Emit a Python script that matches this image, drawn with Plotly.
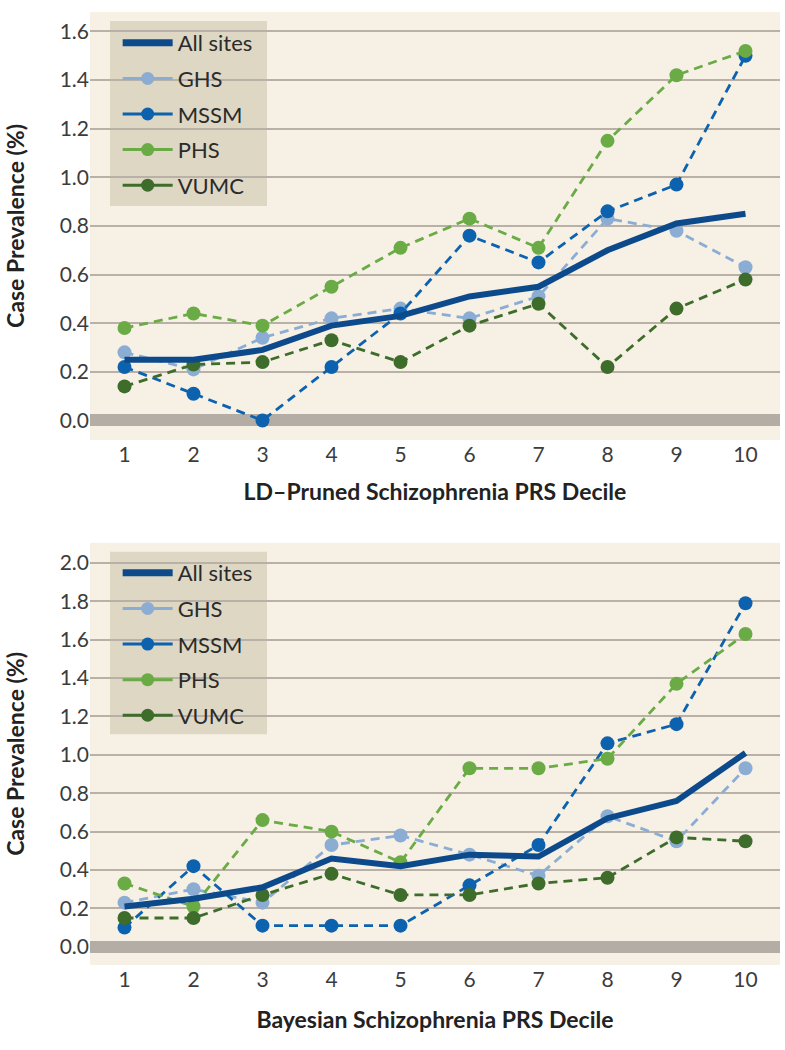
import plotly.graph_objects as go

deciles = [1, 2, 3, 4, 5, 6, 7, 8, 9, 10]
series_names = ["All sites", "GHS", "MSSM", "PHS", "VUMC"]

# Top panel: LD-pruned PRS
ld_all = [0.25, 0.25, 0.29, 0.39, 0.43, 0.51, 0.55, 0.70, 0.81, 0.85]
ld_ghs = [0.28, 0.21, 0.34, 0.42, 0.46, 0.42, 0.51, 0.83, 0.78, 0.63]
ld_mssm = [0.22, 0.11, 0.00, 0.22, 0.44, 0.76, 0.65, 0.86, 0.97, 1.50]
ld_phs = [0.38, 0.44, 0.39, 0.55, 0.71, 0.83, 0.71, 1.15, 1.42, 1.52]
ld_vumc = [0.14, 0.23, 0.24, 0.33, 0.24, 0.39, 0.48, 0.22, 0.46, 0.58]

# Bottom panel: Bayesian PRS
by_all = [0.21, 0.25, 0.31, 0.46, 0.42, 0.48, 0.47, 0.67, 0.76, 1.01]
by_ghs = [0.23, 0.30, 0.23, 0.53, 0.58, 0.48, 0.37, 0.68, 0.55, 0.93]
by_mssm = [0.10, 0.42, 0.11, 0.11, 0.11, 0.32, 0.53, 1.06, 1.16, 1.79]
by_phs = [0.33, 0.21, 0.66, 0.60, 0.44, 0.93, 0.93, 0.98, 1.37, 1.63]
by_vumc = [0.15, 0.15, 0.27, 0.38, 0.27, 0.27, 0.33, 0.36, 0.57, 0.55]

top_title = "LD–Pruned Schizophrenia PRS Decile"
bottom_title = "Bayesian Schizophrenia PRS Decile"
y_title = "Case Prevalence (%)"

colors = {
    "All sites": "#0d4a8c",
    "GHS": "#8badd4",
    "MSSM": "#0c62ae",
    "PHS": "#6aab45",
    "VUMC": "#3e6c2b",
}

FONT = "Lato"
TICK_COLOR = "#3c3c3c"
TITLE_COLOR = "#222222"
PLOT_BG = "#f6f0e5"
GRID = "#b9b1a7"
ZERO = "#b4ada6"
LEGEND_BG = "#ddd7c4"

fig = go.Figure()

panels = [
    (dict(zip(series_names, [ld_all, ld_ghs, ld_mssm, ld_phs, ld_vumc])), "x", "y", "legend"),
    (dict(zip(series_names, [by_all, by_ghs, by_mssm, by_phs, by_vumc])), "x2", "y2", "legend2"),
]

for data, xa, ya, leg in panels:
    for name in series_names[1:]:
        fig.add_trace(go.Scatter(
            x=deciles, y=data[name], mode="lines+markers", name=name,
            line=dict(color=colors[name], width=2.8, dash="9px,6px"),
            marker=dict(color=colors[name], size=14),
            xaxis=xa, yaxis=ya, showlegend=False, hoverinfo="skip",
        ))
    fig.add_trace(go.Scatter(
        x=deciles, y=data["All sites"], mode="lines", name="All sites",
        line=dict(color=colors["All sites"], width=6),
        xaxis=xa, yaxis=ya, showlegend=False,
    ))
    for i, name in enumerate(series_names):
        if name == "All sites":
            fig.add_trace(go.Scatter(
                x=[None], y=[None], mode="lines", name=name,
                line=dict(color=colors[name], width=7),
                xaxis=xa, yaxis=ya, legend=leg, legendgroup=leg + name,
                legendrank=i,
            ))
        else:
            fig.add_trace(go.Scatter(
                x=[None], y=[None], mode="lines+markers", name=name,
                line=dict(color=colors[name], width=3),
                marker=dict(color=colors[name], size=13),
                xaxis=xa, yaxis=ya, legend=leg, legendgroup=leg + name,
                legendrank=i,
            ))
    fig.add_shape(
        type="rect", xref=f"{xa} domain", yref=f"{ya} domain",
        x0=0.029, x1=0.2565, y0=0.5467, y1=0.979,
        fillcolor=LEGEND_BG, line=dict(width=0), layer="below",
    )

xaxis_common = dict(
    range=[0.5, 10.5], tickvals=deciles, ticktext=[str(d) for d in deciles],
    showgrid=False, zeroline=False, showline=False, ticks="",
    tickfont=dict(family=FONT, size=21, color=TICK_COLOR),
    fixedrange=True,
)
yaxis_common = dict(
    dtick=0.2, tick0=0, tickformat=".1f", showgrid=True, gridcolor=GRID, gridwidth=1.5,
    zeroline=True, zerolinecolor=ZERO, zerolinewidth=12, showline=False, ticks="",
    tickfont=dict(family=FONT, size=21, color=TICK_COLOR),
    fixedrange=True,
)

legend_common = dict(
    bgcolor="rgba(0,0,0,0)", borderwidth=0,
    font=dict(family=FONT, size=22, color="#2b2b2b"),
    xanchor="left", yanchor="top", x=0.043,
    traceorder="grouped", tracegroupgap=4, itemwidth=50,
    indentation=-2,
)

title_font = dict(family=FONT, size=23, color=TITLE_COLOR, weight="bold")

fig.update_layout(
    width=785, height=1050,
    margin=dict(l=90, r=5, t=12, b=85),
    paper_bgcolor="white", plot_bgcolor=PLOT_BG,
    font=dict(family=FONT),
    xaxis=dict(**xaxis_common, domain=[0, 1], anchor="y",
               title=dict(text=top_title, standoff=19, font=title_font)),
    yaxis=dict(**yaxis_common, domain=[0.551, 1.0], range=[-0.08, 1.68], anchor="x",
               title=dict(text=y_title, standoff=28, font=title_font)),
    xaxis2=dict(**xaxis_common, domain=[0, 1], anchor="y2",
                title=dict(text=bottom_title, standoff=21, font=title_font)),
    yaxis2=dict(**yaxis_common, domain=[0.0, 0.443], range=[-0.095, 2.105], anchor="x2",
                title=dict(text=y_title, standoff=28, font=title_font)),
    legend=dict(**legend_common, y=0.9895),
    legend2=dict(**legend_common, y=0.4333),
)

fig.write_html(
    "out.html",
    config={"displayModeBar": False},
    post_script="document.body.style.margin='0';document.body.style.padding='0';",
)
